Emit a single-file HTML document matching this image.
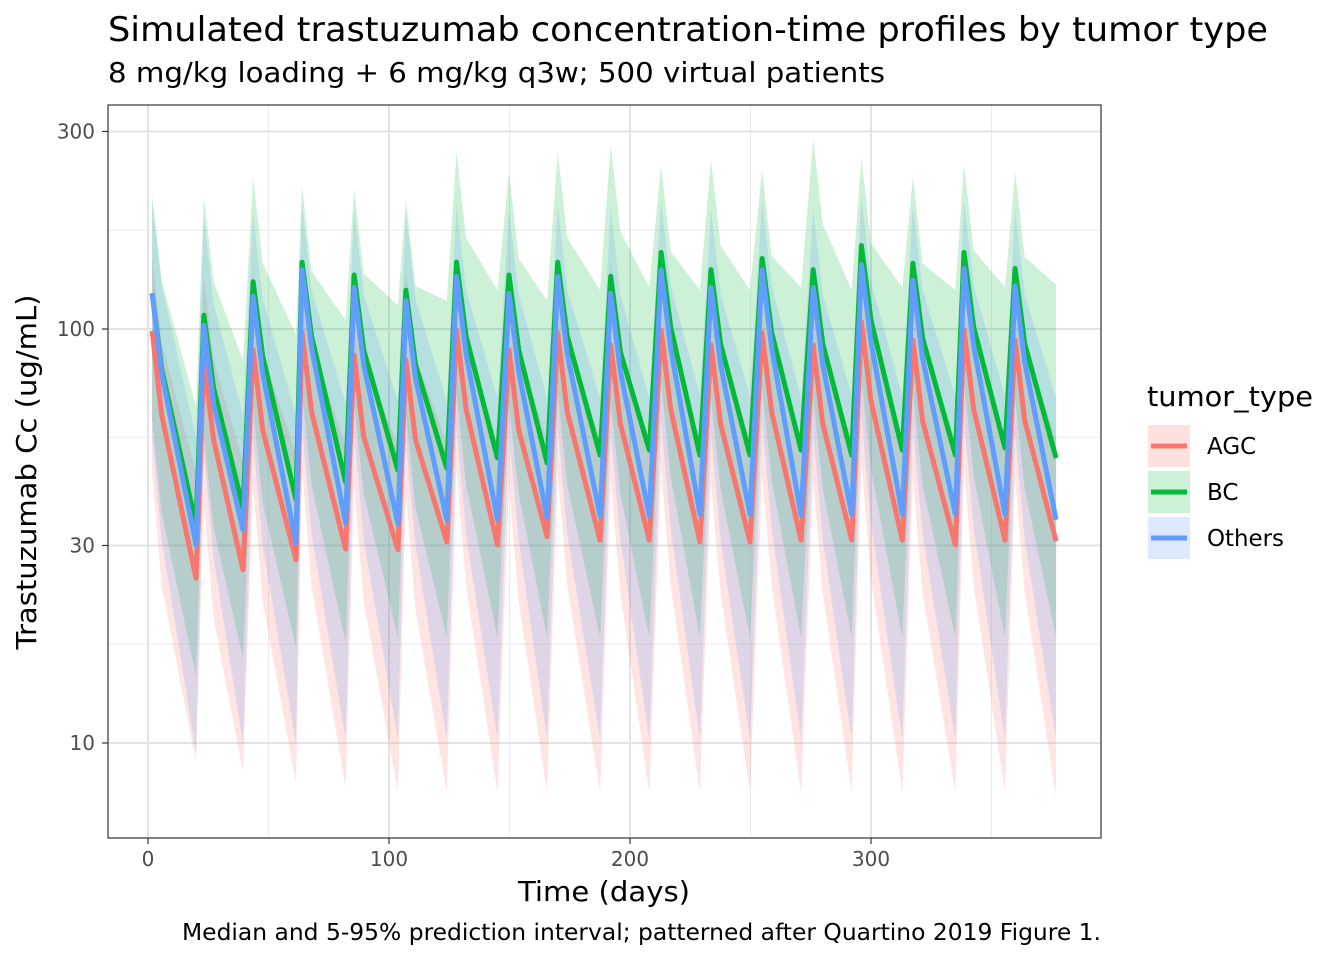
<!DOCTYPE html>
<html><head><meta charset="utf-8">
<style>
html,body{margin:0;padding:0;background:#fff;}
svg{display:block;font-family:"DejaVu Sans","Liberation Sans",sans-serif;}
</style></head>
<body>
<svg id="chart" width="1344" height="960" viewBox="0 0 1344 960" xmlns="http://www.w3.org/2000/svg">
<rect x="0" y="0" width="1344" height="960" fill="#fff"/>
<text x="108" y="41" font-size="34" textLength="1160" lengthAdjust="spacingAndGlyphs" fill="#000">Simulated trastuzumab concentration-time profiles by tumor type</text>
<text x="108" y="82" font-size="28" textLength="777" lengthAdjust="spacingAndGlyphs" fill="#000">8 mg/kg loading + 6 mg/kg q3w; 500 virtual patients</text>
<g id="grid"></g>
<g id="bands"></g>
<g id="lines"></g>
<rect x="108" y="105" width="993" height="733" fill="none" stroke="#333" stroke-width="1.2"/>
<g id="axes"></g>
<text x="604" y="901" font-size="28" textLength="172" lengthAdjust="spacingAndGlyphs" text-anchor="middle" fill="#000">Time (days)</text>
<text transform="translate(36,472) rotate(-90)" font-size="28" textLength="355" lengthAdjust="spacingAndGlyphs" text-anchor="middle" fill="#000">Trastuzumab Cc (ug/mL)</text>
<text x="1101" y="940" font-size="23" textLength="919" lengthAdjust="spacingAndGlyphs" text-anchor="end" fill="#000">Median and 5-95% prediction interval; patterned after Quartino 2019 Figure 1.</text>
<g>
<text x="1147" y="406" font-size="28" textLength="166" lengthAdjust="spacingAndGlyphs" fill="#000">tumor_type</text>
<g>
<rect x="1148" y="425" width="42" height="42" fill="#F8766D" fill-opacity="0.22"/>
<line x1="1151" y1="446" x2="1187" y2="446" stroke="#F8766D" stroke-width="5"/>
<text x="1207" y="454" font-size="23" fill="#000">AGC</text></g>
<g>
<rect x="1148" y="471" width="42" height="42" fill="#00BA38" fill-opacity="0.2"/>
<line x1="1151" y1="492" x2="1187" y2="492" stroke="#00BA38" stroke-width="5"/>
<text x="1207" y="500" font-size="23" fill="#000">BC</text></g>
<g>
<rect x="1148" y="517" width="42" height="42" fill="#619CFF" fill-opacity="0.22"/>
<line x1="1151" y1="538" x2="1187" y2="538" stroke="#619CFF" stroke-width="5"/>
<text x="1207" y="546" font-size="23" textLength="77" lengthAdjust="spacingAndGlyphs" fill="#000">Others</text></g>
</g>
</svg>
<script>
const peakDays=[1.7,23.2,43.6,63.9,85.5,107,128,149.8,170,192,212.9,233.6,254.8,276,296,317.4,338.6,359.8];
const kneeDays=[5.7,27.2,47.6,67.9,89.5,111,132,153.8,174,196,216.9,237.6,258.8,280,300,321.4,342.6,363.8];
const troughDays=[19.9,39.4,61.4,82,103.7,124,145,165.6,187.6,208,229,249.8,271,292,313,335,355.6,376.8];
const bcPeak=[122,108,130,145,135,124,145,135,145,134,153,139,148,139,159,144,153,140];
const bcKnee=[80,72,86,96,89,82,96,89,96,88,101,92,98,92,105,95,101,92];
const bcTrough=[33.6,37,38.7,42.7,45.6,46.1,48.8,47.5,49.6,51,49.6,49.6,51,49.6,51,49.6,51.6,48.8];
const bcHiPeak=[211,209,232,222,219,205,268,239,268,278,249,256,242,288,259,233,250,240];
const bcHiKnee=[131,130,144,138,136,127,166,148,166,172,154,159,150,179,161,144,155,149];
const bcHiTrough=[65,84,97,105,114,117,124,117,124,126,124,124,126,124,126,124,126,128];
const bcLoPeak=[60,55,64,70,66,62,70,66,70,66,74,68,72,68,76,70,74,68];
const bcLoKnee=[36,33,38,42,40,37,42,40,42,40,44,41,43,41,46,42,44,41];
const bcLoTrough=[14.5,16,17,17.5,18,18,18,18,18,18,18,18,18,18,18,18,18,18];
const otPeak=[122,102,120,139,126,117,134,122,134,122,139,126,139,126,143,131,140,127];
const otKnee=[78,66,78,90,82,76,87,79,87,79,90,82,90,82,93,85,91,83];
const otTrough=[30.1,32.7,30.4,34,33.8,34.6,34.6,35,35.3,35.3,35.7,35.7,35.5,35.7,35.7,35.7,35.7,34.6];
const otHiPeak=[205,186,190,200,195,190,200,195,200,195,205,195,205,195,210,200,205,195];
const otHiKnee=[127,115,118,124,121,118,124,121,124,121,127,121,127,121,130,124,127,121];
const otHiTrough=[55,62,62,66,67,67,68,68,68,68,69,69,68,69,69,69,69,68];
const otLoPeak=[55,50,54,58,56,54,58,56,58,56,60,56,60,56,62,58,60,56];
const otLoKnee=[31,28,30,32,31,30,32,31,32,31,33,31,33,31,34,32,33,31];
const otLoTrough=[9.5,10,10,10.2,10.2,10.2,10.2,10.2,10.2,10.2,10.2,10.2,10.2,10.2,10.2,10.2,10.2,10.2];
const agcPeak=[99,84,89,98.3,86.5,84.1,99.5,89,97.8,91.5,99.5,91.5,97.8,91.5,104,94,99.5,94];
const agcKnee=[62,54,57,63,55,54,64,57,63,59,64,59,63,59,67,60,64,60];
const agcTrough=[25,26.2,27.7,29.4,29.3,30.6,30.1,31.5,30.9,30.9,30.6,30.6,30.9,30.9,30.9,30.1,30.9,30.7];
const agcHiPeak=[150,135,140,150,140,138,150,142,150,145,150,145,150,145,155,148,150,148];
const agcHiKnee=[93,84,87,93,87,86,93,88,93,90,93,90,93,90,96,92,93,92];
const agcHiTrough=[45,48,50,52,52,53,53,54,54,54,54,54,54,54,54,54,54,54];
const agcLoPeak=[45,38,42,46,42,40,46,42,45,43,46,43,45,43,48,44,46,44];
const agcLoKnee=[24,20,22,24,22,21,24,22,24,23,24,23,24,23,25,23,24,23];
const agcLoTrough=[9,8.5,8,7.8,7.6,7.6,7.6,7.6,7.6,7.6,7.6,7.6,7.6,7.6,7.6,7.6,7.6,7.4];
const xTicks=[0,100,200,300];
const xMinor=[50,150,250,350];
const yTicks=[10,30,100,300];
const yMinor=[17.32,54.77,173.2];

const X0=148, XS=2.41;
function xs(d){return X0+d*XS;}
function ys(v){return 743-(Math.log10(v)-1)*414;}
const NS='http://www.w3.org/2000/svg';
function mk(tag,attrs,parent){const e=document.createElementNS(NS,tag);for(const k in attrs)e.setAttribute(k,attrs[k]);parent.appendChild(e);return e;}
const grid=document.getElementById('grid'), axes=document.getElementById('axes');
yMinor.forEach(v=>{const l=mk('line',{x1:108,x2:1101,y1:ys(v),y2:ys(v),stroke:'#ebebeb','stroke-width':1},grid);

});
xMinor.forEach(v=>{const l=mk('line',{x1:xs(v),x2:xs(v),y1:105,y2:838,stroke:'#ebebeb','stroke-width':1},grid);

});
yTicks.forEach(v=>{const l=mk('line',{x1:108,x2:1101,y1:ys(v),y2:ys(v),stroke:'#e3e3e3','stroke-width':2},grid);


const t=mk('line',{x1:102,x2:108,y1:ys(v),y2:ys(v),stroke:'#333','stroke-width':1.2},axes);


const tx=mk('text',{x:95,y:ys(v)+7,'font-size':20,'text-anchor':'end',fill:'#4d4d4d'},axes);tx.textContent=v;

});
xTicks.forEach(v=>{const l=mk('line',{x1:xs(v),x2:xs(v),y1:105,y2:838,stroke:'#e3e3e3','stroke-width':2},grid);


const t=mk('line',{x1:xs(v),x2:xs(v),y1:838,y2:844,stroke:'#333','stroke-width':1.2},axes);


const tx=mk('text',{x:xs(v),y:866,'font-size':20,'text-anchor':'middle',fill:'#4d4d4d'},axes);tx.textContent=v;

});

function seq(pk,kn,tr){const pts=[];for(let i=0;i<peakDays.length;i++){pts.push([peakDays[i],pk[i]]);pts.push([kneeDays[i],kn[i]]);pts.push([troughDays[i],tr[i]]);}return pts;}
const series=[
 {name:'agc',color:'#F8766D',op:0.2,pk:agcPeak,kn:agcKnee,tr:agcTrough,hp:agcHiPeak,hk:agcHiKnee,ht:agcHiTrough,lp:agcLoPeak,lk:agcLoKnee,lt:agcLoTrough},
 {name:'bc',color:'#00BA38',op:0.2,pk:bcPeak,kn:bcKnee,tr:bcTrough,hp:bcHiPeak,hk:bcHiKnee,ht:bcHiTrough,lp:bcLoPeak,lk:bcLoKnee,lt:bcLoTrough},
 {name:'others',color:'#619CFF',op:0.2,pk:otPeak,kn:otKnee,tr:otTrough,hp:otHiPeak,hk:otHiKnee,ht:otHiTrough,lp:otLoPeak,lk:otLoKnee,lt:otLoTrough}];
const bands=document.getElementById('bands'), lines=document.getElementById('lines');
series.forEach(s=>{
 const hi=seq(s.hp,s.hk,s.ht), lo=seq(s.lp,s.lk,s.lt).reverse();
 const d='M'+hi.concat(lo).map(p=>xs(p[0]).toFixed(1)+','+ys(p[1]).toFixed(1)).join('L')+'Z';
 const b=mk('path',{d:d,fill:s.color,'fill-opacity':s.op,stroke:'none'},bands);
 
 
});
series.forEach(s=>{
 const m=seq(s.pk,s.kn,s.tr);
 const d='M'+m.map(p=>xs(p[0]).toFixed(1)+','+ys(p[1]).toFixed(1)).join('L');
 const l=mk('path',{d:d,fill:'none',stroke:s.color,'stroke-width':5,'stroke-linejoin':'round'},lines);
 
 
});
</script>
</body></html>
